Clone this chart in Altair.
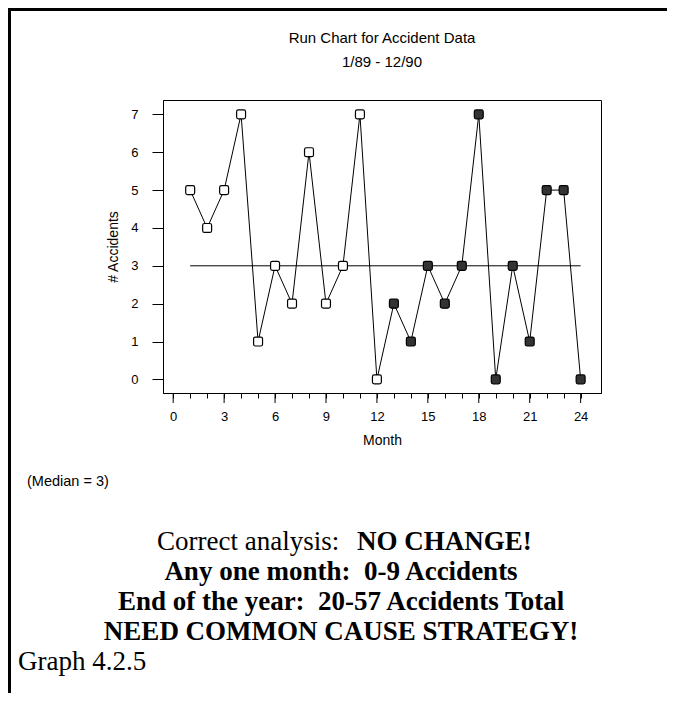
import altair as alt
import pandas as pd

# ---- data ----
months = list(range(1, 25))
accidents = [5, 4, 5, 7, 1, 3, 2, 6, 2, 3, 7, 0,
             2, 1, 3, 2, 3, 7, 0, 3, 1, 5, 5, 0]
year = ["1989"] * 12 + ["1990"] * 12
median_value = 3
median_start = 1
median_end = 24
x_ticks = list(range(0, 25))
x_major = list(range(0, 25, 3))
y_ticks = list(range(0, 8))

title_text = "Run Chart for Accident Data"
subtitle_text = "1/89 - 12/90"
median_note = "(Median = 3)"
analysis_label = "Correct analysis:"
analysis_value = "NO CHANGE!"
bold_lines = ["Any one month:\u00a0 0-9 Accidents",
              "End of the year:\u00a0 20-57 Accidents Total",
              "NEED COMMON CAUSE STRATEGY!"]
graph_label = "Graph 4.2.5"

# ---- layout ----
W, H = 438, 293
PAD = {"left": 155, "top": 92, "right": 66, "bottom": 300}
SANS = "Liberation Sans"
SERIF = "Liberation Serif"

df = pd.DataFrame({"Month": months, "Accidents": accidents, "Year": year})
df_med = pd.DataFrame({"Month": [median_start], "Month_end": [median_end],
                       "Accidents": [median_value]})
df_major = pd.DataFrame({"Month": x_major})

xs = alt.Scale(domain=[-0.6, 25.2], nice=False, zero=False)
ys = alt.Scale(domain=[-0.36, 7.38], nice=False, zero=False)

xaxis = alt.Axis(values=x_ticks, tickSize=5, labelExpr="datum.value % 3 == 0 ? datum.label : ''",
                 labelOverlap=False, labelFlush=False, labelPadding=12, titlePadding=10,
                 title="Month", grid=False)
yaxis = alt.Axis(values=y_ticks, tickSize=11, labelPadding=14, titlePadding=10,
                 title="# Accidents", grid=False, labelOverlap=False, labelFlush=False)

X = alt.X("Month:Q", scale=xs, axis=xaxis)
Y = alt.Y("Accidents:Q", scale=ys, axis=yaxis)

line = alt.Chart(df).mark_line(color="black", strokeWidth=1).encode(x=X, y=Y)

rounded_square = ("M -0.6 -1 L 0.6 -1 Q 1 -1 1 -0.6 L 1 0.6 Q 1 1 0.6 1 "
                  "L -0.6 1 Q -1 1 -1 0.6 L -1 -0.6 Q -1 -1 -0.6 -1 Z")
points = alt.Chart(df).mark_point(shape=rounded_square, filled=True, size=80,
                                  stroke="black", strokeWidth=1.2, opacity=1).encode(
    x=X, y=Y,
    fill=alt.Fill("Year:N", scale=alt.Scale(domain=["1989", "1990"],
                                            range=["white", "#333333"]), legend=None),
)

median_rule = alt.Chart(df_med).mark_rule(color="black", strokeWidth=1).encode(
    x=X, x2="Month_end:Q", y=Y)

major_ticks = alt.Chart(df_major).mark_rule(color="black", strokeWidth=1).encode(
    x=X, y=alt.value(H), y2=alt.value(H + 10))


def text_layer(s, x, y, size, font, weight="normal", align="center"):
    return alt.Chart(pd.DataFrame({"t": [s]})).mark_text(
        font=font, fontSize=size, fontWeight=weight, align=align,
        baseline="middle", color="black").encode(
        x=alt.value(x), y=alt.value(y), text="t:N")


one = pd.DataFrame({"k": [0]})
left_border = alt.Chart(one).mark_rule(color="black", strokeWidth=3).encode(
    x=alt.value(-PAD["left"] + 1.5), y=alt.value(-PAD["top"]), y2=alt.value(H + PAD["bottom"]))
top_border = alt.Chart(one).mark_rule(color="black", strokeWidth=3).encode(
    y=alt.value(-PAD["top"] + 1.5), x=alt.value(-PAD["left"]), x2=alt.value(W + PAD["right"]))

texts = [
    text_layer(title_text, W / 2, -62, 15, SANS),
    text_layer(subtitle_text, W / 2, -38, 15, SANS),
    text_layer(median_note, -136, 382, 14.5, SANS, align="left"),
    text_layer(analysis_label, -6, 442, 27, SERIF, align="left"),
    text_layer(analysis_value, 194, 442, 27, SERIF, weight="bold", align="left"),
    text_layer(bold_lines[0], 178, 472, 27, SERIF, weight="bold"),
    text_layer(bold_lines[1], 178, 502, 27, SERIF, weight="bold"),
    text_layer(bold_lines[2], 178, 532, 27, SERIF, weight="bold"),
    text_layer(graph_label, -145, 562, 27, SERIF, align="left"),
]

chart = alt.layer(
    median_rule, line, points, major_ticks, left_border, top_border, *texts
).properties(
    width=W, height=H, padding=PAD,
    autosize=alt.AutoSizeParams(type="none"),
).configure_view(
    stroke="black", strokeWidth=1
).configure_axis(
    labelFont=SANS, titleFont=SANS, labelFontSize=13, titleFontSize=14,
    titleFontWeight="normal", labelColor="black", titleColor="black",
    tickColor="black", domainColor="black",
)

chart.save("out.html", embed_options={"renderer": "svg", "actions": False})
